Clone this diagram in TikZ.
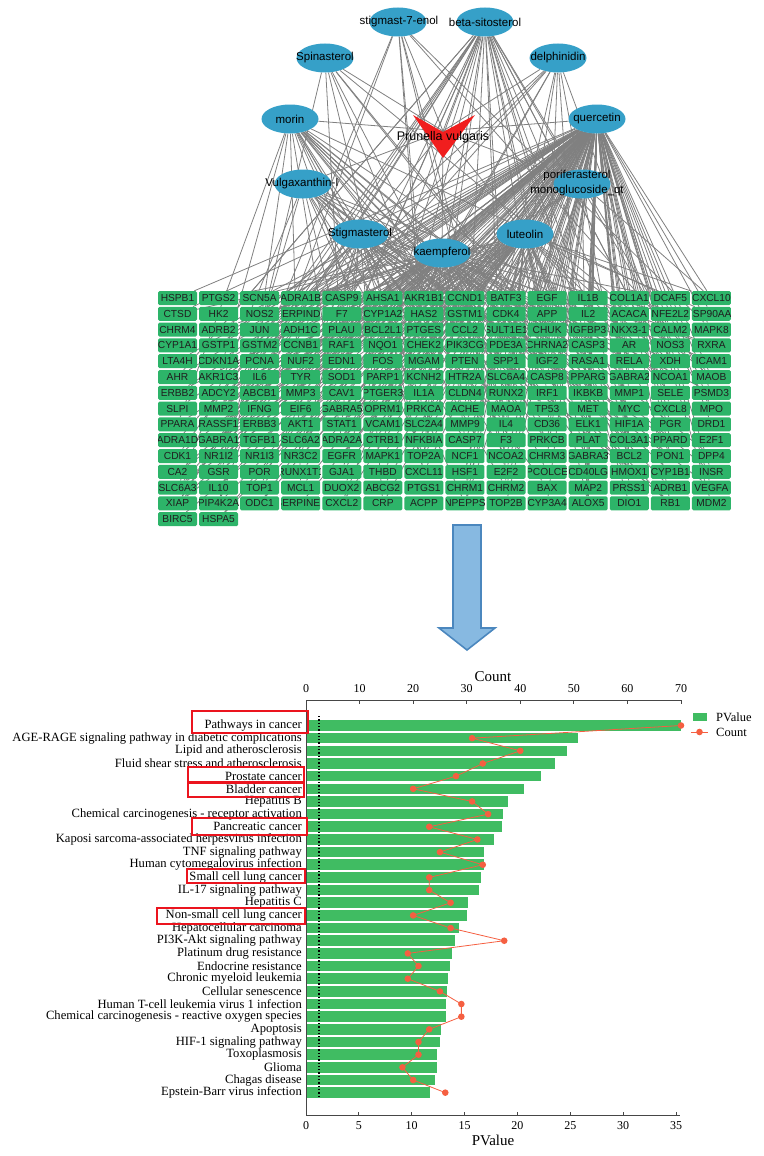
\documentclass[tikz,border=0pt]{standalone}
\usepackage{fontspec}
\setmainfont{Liberation Serif}
\newfontfamily\arialf{Liberation Sans}
\usetikzlibrary{shapes.geometric}
\pgfdeclarelayer{background}
\pgfsetlayers{background,main}
\definecolor{nodeblue}{RGB}{54,160,200}
\definecolor{geneg}{RGB}{45,180,105}
\definecolor{edgegray}{RGB}{128,128,128}
\definecolor{bargreen}{RGB}{64,188,98}
\definecolor{dotred}{RGB}{245,95,65}
\definecolor{arrowfill}{RGB}{135,185,225}
\definecolor{arrowdraw}{RGB}{75,135,190}
\definecolor{axisgray}{RGB}{70,70,70}
\definecolor{hlred}{RGB}{235,20,30}
\definecolor{pvred}{RGB}{240,30,30}
\tikzset{
 compound/.style={ellipse, fill=nodeblue, minimum width=57, minimum height=29, inner sep=0},
 ctext/.style={font=\arialf\fontsize{11.5}{15}\selectfont, text=black, inner sep=0, align=center},
 gene/.style={rectangle, rounded corners=1.5, fill=geneg, minimum width=39, minimum height=14, inner sep=0},
 genetext/.style={font=\arialf\fontsize{10.2}{10}\selectfont, text=black!88, inner sep=0},
 edge/.style={draw=edgegray, line width=0.8},
 lab/.style={anchor=east, font=\fontsize{12.6}{13}\selectfont, inner sep=0},
 ticklab/.style={font=\fontsize{12}{12}\selectfont, inner sep=0},
 axistitle/.style={font=\fontsize{15}{15}\selectfont, inner sep=0},
 legtext/.style={anchor=west, font=\fontsize{12.5}{13}\selectfont, inner sep=0},
 dot/.style={circle, fill=dotred, minimum size=6.6, inner sep=0},
 countline/.style={draw=dotred, line width=0.8},
 hlbox/.style={draw=hlred, line width=2.2},
 axisline/.style={draw=axisgray, line width=1}
}
\begin{document}
\begin{tikzpicture}[x=1pt,y=-1pt]
\useasboundingbox (0,0) rectangle (763,1156);
% ---------- compounds ----------
\node[compound] (s7) at (398,22) {};
\node[compound] (bs) at (485,22) {};
\node[compound] (sp) at (325,58) {};
\node[compound] (de) at (558,58) {};
\node[compound] (mo) at (290,119) {};
\node[compound] (qu) at (597,119) {};
\node[compound] (vu) at (303,184) {};
\node[compound] (po) at (582,184) {};
\node[compound] (stg) at (360,234) {};
\node[compound] (ka) at (442,253) {};
\node[compound] (lu) at (525,234) {};
\coordinate (pvc) at (443,131);
% ---------- genes ----------
\foreach \name [count=\i] in {HSPB1,PTGS2,SCN5A,ADRA1B,CASP9,AHSA1,AKR1B1,CCND1,BATF3,EGF,IL1B,COL1A1,DCAF5,CXCL10,
CTSD,HK2,NOS2,SERPIND1,F7,CYP1A2,HAS2,GSTM1,CDK4,APP,IL2,ACACA,NFE2L2,HSP90AA1,
CHRM4,ADRB2,JUN,ADH1C,PLAU,BCL2L1,PTGES,CCL2,SULT1E1,CHUK,IGFBP3,NKX3-1,CALM2,MAPK8,
CYP1A1,GSTP1,GSTM2,CCNB1,RAF1,NQO1,CHEK2,PIK3CG,PDE3A,CHRNA2,CASP3,AR,NOS3,RXRA,
LTA4H,CDKN1A,PCNA,NUF2,EDN1,FOS,MGAM,PTEN,SPP1,IGF2,RASA1,RELA,XDH,ICAM1,
AHR,AKR1C3,IL6,TYR,SOD1,PARP1,KCNH2,HTR2A,SLC6A4,CASP8,PPARG,GABRA2,NCOA1,MAOB,
ERBB2,ADCY2,ABCB1,MMP3,CAV1,PTGER3,IL1A,CLDN4,RUNX2,IRF1,IKBKB,MMP1,SELE,PSMD3,
SLPI,MMP2,IFNG,EIF6,GABRA5,OPRM1,PRKCA,ACHE,MAOA,TP53,MET,MYC,CXCL8,MPO,
PPARA,RASSF1,ERBB3,AKT1,STAT1,VCAM1,SLC2A4,MMP9,IL4,CD36,ELK1,HIF1A,PGR,DRD1,
ADRA1D,GABRA1,TGFB1,SLC6A2,ADRA2A,CTRB1,NFKBIA,CASP7,F3,PRKCB,PLAT,COL3A1,PPARD,E2F1,
CDK1,NR1I2,NR1I3,NR3C2,EGFR,MAPK1,TOP2A,NCF1,NCOA2,CHRM3,GABRA3,BCL2,PON1,DPP4,
CA2,GSR,POR,RUNX1T1,GJA1,THBD,CXCL11,HSF1,E2F2,PCOLCE,CD40LG,HMOX1,CYP1B1,INSR,
SLC6A3,IL10,TOP1,MCL1,DUOX2,ABCG2,PTGS1,CHRM1,CHRM2,BAX,MAP2,PRSS1,ADRB1,VEGFA,
XIAP,PIP4K2A,ODC1,SERPINE1,CXCL2,CRP,ACPP,NPEPPS,TOP2B,CYP3A4,ALOX5,DIO1,RB1,MDM2,
BIRC5,HSPA5}{
 \pgfmathtruncatemacro\gcol{mod(\i-1,14)}
 \pgfmathtruncatemacro\grow{div(\i-1,14)}
 \node[gene, path picture={\node[genetext] (gt\i) at (path picture bounding box.center) {\name};}]
   (g\i) at ({177.5+41.07*\gcol},{298+15.8*\grow}) {};
}
% ---------- edges ----------
\begin{pgfonlayer}{background}
\foreach \cp in {s7,bs,sp,de,mo,qu,vu,po,stg,ka,lu}{\draw[edge] (pvc) -- (\cp);}
\foreach \i in {1,...,198}{
 \pgfmathtruncatemacro\mq{mod(\i*37,100)}
 \ifnum\mq<68 \draw[edge] (qu) -- (g\i);\fi
 \pgfmathtruncatemacro\mk{mod(\i*53+11,100)}
 \ifnum\mk<26 \draw[edge] (ka) -- (g\i);\fi
 \pgfmathtruncatemacro\ml{mod(\i*29+7,100)}
 \ifnum\ml<24 \draw[edge] (lu) -- (g\i);\fi
 \pgfmathtruncatemacro\mbs{mod(\i*17+3,100)}
 \ifnum\mbs<15 \draw[edge] (bs) -- (g\i);\fi
 \pgfmathtruncatemacro\mst{mod(\i*41+5,100)}
 \ifnum\mst<14 \draw[edge] (stg) -- (g\i);\fi
 \pgfmathtruncatemacro\mmo{mod(\i*61+13,100)}
 \ifnum\mmo<11 \draw[edge] (mo) -- (g\i);\fi
 \pgfmathtruncatemacro\mvu{mod(\i*23+19,100)}
 \ifnum\mvu<8 \draw[edge] (vu) -- (g\i);\fi
 \pgfmathtruncatemacro\mde{mod(\i*71+2,100)}
 \ifnum\mde<6 \draw[edge] (de) -- (g\i);\fi
 \pgfmathtruncatemacro\msp{mod(\i*13+9,100)}
 \ifnum\msp<4 \draw[edge] (sp) -- (g\i);\fi
 \pgfmathtruncatemacro\msv{mod(\i*19+4,100)}
 \ifnum\msv<4 \draw[edge] (s7) -- (g\i);\fi
 \pgfmathtruncatemacro\mpo{mod(\i*43+1,100)}
 \ifnum\mpo<4 \draw[edge] (po) -- (g\i);\fi
}
\end{pgfonlayer}
% Prunella vulgaris shape
\fill[pvred] (413,115) -- (443,132) -- (475,115) -- (443,158) -- cycle;
% compound labels
\node[ctext] (s7t) at (399,22) {stigmast-7-enol};
\node[ctext] (bst) at (485,22) {beta-sitosterol};
\node[ctext] (spt) at (325,58) {Spinasterol};
\node[ctext] (det) at (558,58) {delphinidin};
\node[ctext] (mot) at (290,119) {morin};
\node[ctext] (qut) at (597,119) {quercetin};
\node[ctext] (vut) at (302,184) {Vulgaxanthin-I};
\node[ctext] (pot) at (577,183) {poriferasterol\\monoglucoside\_qt};
\node[ctext] (stgt) at (360,234) {Stigmasterol};
\node[ctext] (kat) at (442,253) {kaempferol};
\node[ctext] (lut) at (525,234) {luteolin};
\node[ctext, font=\arialf\fontsize{12.5}{13}\selectfont] (pvt) at (443,137) {Prunella vulgaris};
% ---------- big arrow ----------
\draw[draw=arrowdraw, fill=arrowfill, line width=1.6, line join=miter]
 (453,525) -- (481,525) -- (481,628) -- (495,628) -- (467,650) -- (439,628) -- (453,628) -- cycle;
% ---------- chart ----------
\foreach \bx [count=\i] in {681,578,567,555,541,524,508,503,502,494,484,484,481,479,468,467,459,455,452,450,448,447,446,446,441,440,437,437,435,430}{
 \pgfmathsetmacro\yy{725.5+12.66*(\i-1)}
 \fill[bargreen] (307,{\yy-5.3}) rectangle (\bx,{\yy+5.3});
}
\foreach \t [count=\i] in {Pathways in cancer,AGE-RAGE signaling pathway in diabetic complications,Lipid and atherosclerosis,Fluid shear stress and atherosclerosis,Prostate cancer,Bladder cancer,Hepatitis B,Chemical carcinogenesis - receptor activation,Pancreatic cancer,Kaposi sarcoma-associated herpesvirus infection,TNF signaling pathway,Human cytomegalovirus infection,Small cell lung cancer,IL-17 signaling pathway,Hepatitis C,Non-small cell lung cancer,Hepatocellular carcinoma,PI3K-Akt signaling pathway,Platinum drug resistance,Endocrine resistance,Chronic myeloid leukemia,Cellular senescence,Human T-cell leukemia virus 1 infection,Chemical carcinogenesis - reactive oxygen species,Apoptosis,HIF-1 signaling pathway,Toxoplasmosis,Glioma,Chagas disease,Epstein-Barr virus infection}{
 \pgfmathsetmacro\yy{725.5+12.66*(\i-1)}
 \node[lab] (lab\i) at (302,\yy) {\t};
}
% threshold line
\draw[black, dotted, line width=1.3] (319,716) -- (319,1098);
% axes
\draw[axisline] (306,700) -- (681,700);
\draw[axisline] (306,700) -- (306,1115) -- (680,1115);
\foreach \k [count=\j] in {0,10,20,30,40,50,60,70}{
 \draw[axisline] ({306+53.571*(\j-1)},700) -- ++(0,3.5);
 \node[ticklab] (tt\j) at ({306+53.571*(\j-1)},689) {\k};
}
\foreach \k [count=\j] in {0,5,10,15,20,25,30,35}{
 \draw[axisline] ({306+52.86*(\j-1)},1115) -- ++(0,-3.5);
 \node[ticklab] (bt\j) at ({306+52.86*(\j-1)},1126) {\k};
}
\node[axistitle] (countt) at (493,677) {Count};
\node[axistitle] (pvalt) at (493,1140) {PValue};
% count line and dots
\foreach \c [count=\i] in {70,31,40,33,28,20,31,34,23,32,25,33,23,23,27,20,27,37,19,21,19,25,29,29,23,21,21,18,20,26}{
 \pgfmathsetmacro\yy{725.5+12.66*(\i-1)}
 \coordinate (cc\i) at ({306+5.357*\c},\yy);
}
\draw[countline] (cc1) \foreach \i in {2,...,30}{ -- (cc\i)};
\foreach \i in {1,...,30}{\node[dot] (cd\i) at (cc\i) {};}
% legend
\fill[bargreen] (693,713) rectangle (707,721);
\node[legtext] (legp) at (716,717) {PValue};
\coordinate (lgA) at (691,732);
\coordinate (lgB) at (708,732);
\draw[countline] (lgA) -- (lgB);
\node[dot] (legd) at (699.5,732) {};
\node[legtext] (legc) at (716,732) {Count};
% highlight boxes
\draw[hlbox] (192,711) rectangle (308,733);
\draw[hlbox] (188,767) rectangle (304,782);
\draw[hlbox] (188,783) rectangle (304,797);
\draw[hlbox] (192,818) rectangle (307,835);
\draw[hlbox] (187,869) rectangle (305,883);
\draw[hlbox] (157,908) rectangle (305,924);
\end{tikzpicture}
\end{document}
